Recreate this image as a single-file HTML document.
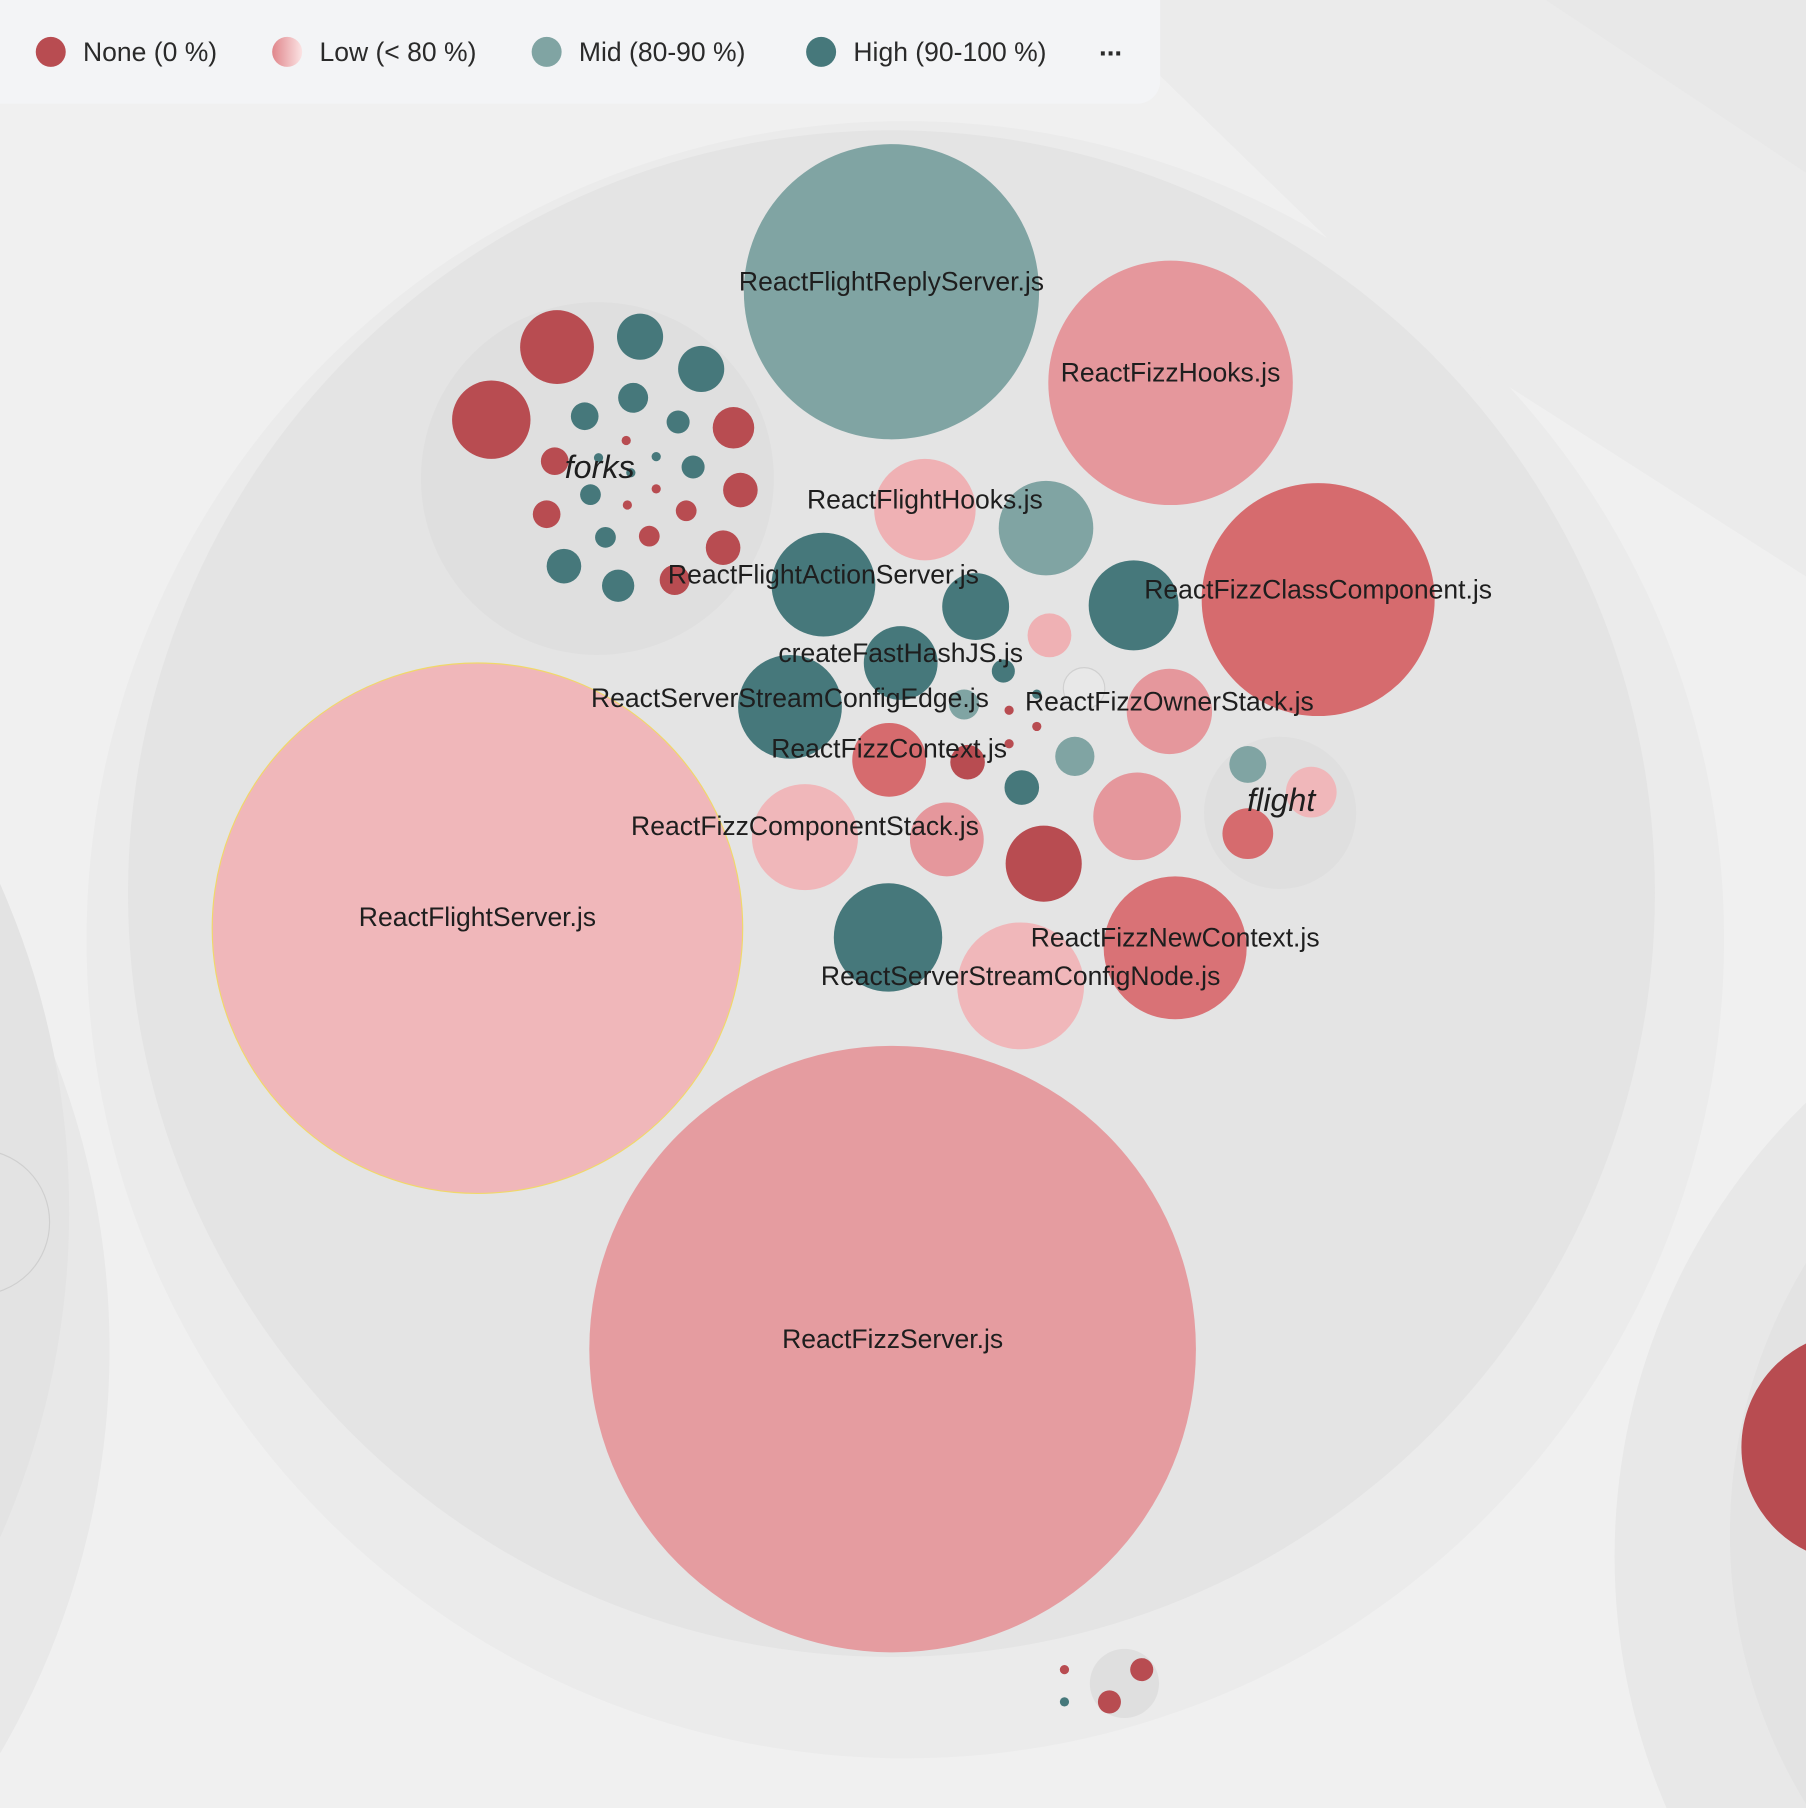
<!DOCTYPE html>
<html><head><style>html,body{margin:0;padding:0;background:#f0f0f0;overflow:hidden;width:1806px;height:1808px}svg{display:block}</style></head>
<body>
<svg width="1806" height="1808" viewBox="0 0 1566 1568" preserveAspectRatio="none" xmlns="http://www.w3.org/2000/svg" font-family="Liberation Sans, sans-serif">
<defs><linearGradient id="lg" x1="0" x2="1"><stop offset="0" stop-color="#e0868b"/><stop offset="1" stop-color="#fbe3e4"/></linearGradient></defs>
<rect width="1566" height="1568" fill="#f0f0f0"/>
<polygon points="1340,0 1566,0 1566,150" fill="#e8e8e8"/>
<polygon points="1000,60 1170,225 1300,330 1566,500 1566,150 1340,0 1000,0" fill="#ebebeb"/>
<circle cx="-600" cy="1170" r="695" fill="#e8e8e8"/>
<circle cx="-640" cy="1050" r="700" fill="#e3e3e3"/>
<circle cx="-20" cy="1060" r="63" fill="none" stroke="#cfcfcf"/>
<circle cx="1950" cy="1350" r="550" fill="#e8e8e8"/>
<circle cx="1950" cy="1330" r="450" fill="#e3e3e3"/>
<circle cx="1610" cy="1255" r="100" fill="#b84c51"/>
<circle cx="785" cy="815" r="710" fill="#ebebeb"/>
<circle cx="773" cy="775" r="662" fill="#e4e4e4"/>
<circle cx="518" cy="415" r="153" fill="#dfdfdf"/>
<circle cx="1110" cy="705" r="66" fill="#dfdfdf"/>
<circle cx="975" cy="1460" r="30" fill="#dfdfdf"/>
<g>
<circle cx="773" cy="253" r="128" fill="#80a4a3"/>
<circle cx="1015" cy="332" r="106" fill="#e5979c"/>
<circle cx="1143" cy="520" r="101" fill="#d66b6e"/>
<circle cx="414" cy="805" r="230" fill="#f0b7ba" stroke="#f0d86a" stroke-width="1"/>
<circle cx="774" cy="1170" r="263" fill="#e59ca0"/>
</g>
<g>
<circle cx="483" cy="301" r="32" fill="#b84c51"/><circle cx="555" cy="292" r="20" fill="#46787b"/><circle cx="608" cy="320" r="20" fill="#46787b"/><circle cx="426" cy="364" r="34" fill="#b84c51"/><circle cx="507" cy="361" r="12" fill="#46787b"/><circle cx="549" cy="345" r="13" fill="#46787b"/><circle cx="588" cy="366" r="10" fill="#46787b"/><circle cx="636" cy="371" r="18" fill="#b84c51"/><circle cx="481" cy="400" r="12" fill="#b84c51"/><circle cx="601" cy="405" r="10" fill="#46787b"/><circle cx="642" cy="425" r="15" fill="#b84c51"/><circle cx="512" cy="429" r="9" fill="#46787b"/><circle cx="474" cy="446" r="12" fill="#b84c51"/><circle cx="595" cy="443" r="9" fill="#b84c51"/><circle cx="525" cy="466" r="9" fill="#46787b"/><circle cx="563" cy="465" r="9" fill="#b84c51"/><circle cx="627" cy="475" r="15" fill="#b84c51"/><circle cx="489" cy="491" r="15" fill="#46787b"/><circle cx="536" cy="508" r="14" fill="#46787b"/><circle cx="585" cy="503" r="13" fill="#b84c51"/>
<circle cx="543" cy="382" r="4" fill="#b84c51"/><circle cx="569" cy="396" r="4" fill="#46787b"/><circle cx="519" cy="397" r="4" fill="#46787b"/><circle cx="544" cy="438" r="4" fill="#b84c51"/><circle cx="569" cy="424" r="4" fill="#b84c51"/><circle cx="547" cy="410" r="4" fill="#46787b"/>
</g>
<g>
<circle cx="802" cy="442" r="44" fill="#efb1b4"/><circle cx="907" cy="458" r="41" fill="#80a4a3"/><circle cx="714" cy="507" r="45" fill="#46787b"/><circle cx="846" cy="526" r="29" fill="#46787b"/><circle cx="983" cy="525" r="39" fill="#46787b"/><circle cx="910" cy="551" r="19" fill="#efb1b4"/><circle cx="781" cy="575" r="32" fill="#46787b"/><circle cx="870" cy="582" r="10" fill="#46787b"/><circle cx="685" cy="613" r="45" fill="#46787b"/><circle cx="836" cy="611" r="13" fill="#80a4a3"/><circle cx="940" cy="597" r="18" fill="#e8e8e8" stroke="#d0d0d0"/><circle cx="1014" cy="617" r="37" fill="#e5979c"/>
<circle cx="899" cy="602" r="4" fill="#46787b"/><circle cx="875" cy="616" r="4" fill="#b84c51"/><circle cx="899" cy="630" r="4" fill="#b84c51"/><circle cx="875" cy="645" r="4" fill="#b84c51"/>
<circle cx="771" cy="659" r="32" fill="#d66b6e"/><circle cx="839" cy="661" r="15" fill="#b84c51"/><circle cx="932" cy="656" r="17" fill="#80a4a3"/><circle cx="886" cy="683" r="15" fill="#46787b"/><circle cx="698" cy="726" r="46" fill="#f0b7ba"/><circle cx="821" cy="728" r="32" fill="#e5979c"/><circle cx="905" cy="749" r="33" fill="#b84c51"/><circle cx="986" cy="708" r="38" fill="#e5979c"/>
<circle cx="1082" cy="663" r="16" fill="#80a4a3"/><circle cx="1137" cy="687" r="22" fill="#f0b7ba"/><circle cx="1082" cy="723" r="22" fill="#d66b6e"/>
<circle cx="770" cy="813" r="47" fill="#46787b"/><circle cx="885" cy="855" r="55" fill="#f0b7ba"/><circle cx="1019" cy="822" r="62" fill="#d97276"/>
<circle cx="990" cy="1448" r="10" fill="#b84c51"/><circle cx="962" cy="1476" r="10" fill="#b84c51"/><circle cx="923" cy="1448" r="4" fill="#b84c51"/><circle cx="923" cy="1476" r="4" fill="#46787b"/>
</g>
<g font-size="23" fill="#1e1e1e" text-anchor="middle" dominant-baseline="middle">
<text x="773" y="246">ReactFlightReplyServer.js</text>
<text x="1015" y="325">ReactFizzHooks.js</text>
<text x="802" y="435">ReactFlightHooks.js</text>
<text x="714" y="500">ReactFlightActionServer.js</text>
<text x="1143" y="513">ReactFizzClassComponent.js</text>
<text x="781" y="568">createFastHashJS.js</text>
<text x="685" y="607">ReactServerStreamConfigEdge.js</text>
<text x="1014" y="610">ReactFizzOwnerStack.js</text>
<text x="771" y="651">ReactFizzContext.js</text>
<text x="698" y="718">ReactFizzComponentStack.js</text>
<text x="414" y="797">ReactFlightServer.js</text>
<text x="1019" y="815">ReactFizzNewContext.js</text>
<text x="885" y="848">ReactServerStreamConfigNode.js</text>
<text x="774" y="1163">ReactFizzServer.js</text>
<text x="520" y="407" font-size="28" font-style="italic">forks</text>
<text x="1111" y="696" font-size="28" font-style="italic">flight</text>
</g>
<path d="M0,0 H1006 V70 A20,20 0 0 1 986,90 H0 Z" fill="#f3f4f6"/>
<g font-size="23" fill="#2a2a2a" dominant-baseline="middle">
<circle cx="44" cy="45" r="13" fill="#b84c51"/><text x="72" y="47">None (0 %)</text>
<circle cx="249" cy="45" r="13" fill="url(#lg)"/><text x="277" y="47">Low (&lt; 80 %)</text>
<circle cx="474" cy="45" r="13" fill="#80a4a3"/><text x="502" y="47">Mid (80-90 %)</text>
<circle cx="712" cy="45" r="13" fill="#46787b"/><text x="740" y="47">High (90-100 %)</text>
<text x="953" y="42" font-weight="bold" font-size="24">...</text>
</g>
</svg>
</body></html>
